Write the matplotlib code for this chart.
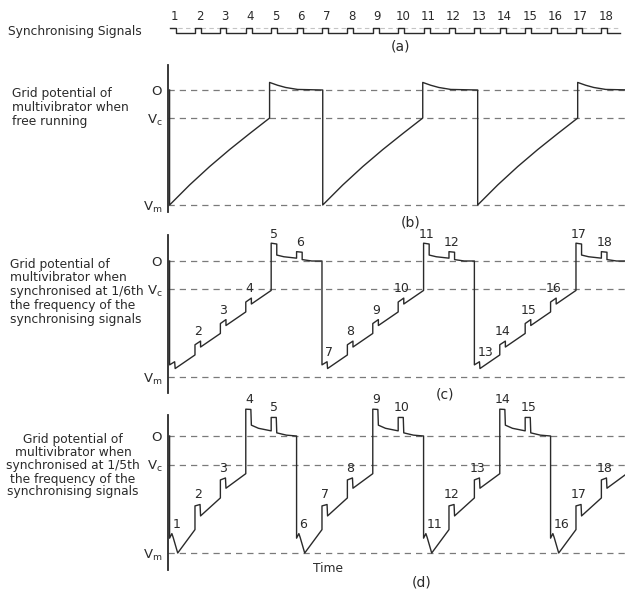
import numpy as np
import matplotlib

matplotlib.use("Agg")
import matplotlib.pyplot as plt

plt.rcParams["font.family"] = ["DejaVu Sans"]

# ---- data ---------------------------------------------------------------
# time axis is in units of the sync-pulse period, pulse k starts at t = k
sync_pulse_numbers = list(range(1, 19))
pulse_width = 0.24
sync_end = 18.75

# grid levels (volts, arbitrary units): O, Vc, Vm
level_values = [0.0, -1.0, -4.1]
level_labels = ["O", r"$\mathregular{V_c}$", r"$\mathregular{V_m}$"]

# (b) free running: one cycle, times relative to the start of each cycle
free_cycle_starts = [1.0, 7.03, 13.13, 19.2]
free_shape_t = [0.0, 0.0, 0.787, 1.575, 2.362, 3.15, 3.937, 3.937, 4.25, 4.57, 5.04]
free_shape_v = [0.0, -4.1, -3.387, -2.731, -2.125, -1.555, -1.0, 0.27, 0.17, 0.09, 0.02]

# (c) locked at 1/6th: cycle starts at the pulse that flips it down
sixth_cycle_starts = [1, 7, 13, 19]
sixth_shape_t = [0.0, 0.0, 0.2, 0.22,
                 1.0, 1.0, 1.22, 1.22,
                 2.0, 2.0, 2.22, 2.22,
                 3.0, 3.0, 3.22, 3.22,
                 4.0, 4.0, 4.22, 4.22, 4.5, 5.0,
                 5.0, 5.22, 5.22, 5.6]
sixth_shape_v = [0.0, -3.67, -3.56, -3.80,
                 -3.32, -2.96, -2.83, -3.04,
                 -2.56, -2.21, -2.07, -2.28,
                 -1.80, -1.45, -1.31, -1.52,
                 -1.04, 0.63, 0.60, 0.21, 0.15, 0.10,
                 0.33, 0.31, 0.05, 0.0]
sixth_labelled = list(range(2, 19))

# (d) locked at 1/5th
fifth_cycle_starts = [1, 6, 11, 16]
fifth_shape_t = [0.0, 0.0, 0.09, 0.14, 0.32,
                 1.0, 1.0, 1.2, 1.22,
                 2.0, 2.0, 2.2, 2.22,
                 3.0, 3.0, 3.2, 3.22, 3.5, 4.0,
                 4.0, 4.2, 4.22, 4.6, 5.0]
fifth_shape_v = [0.0, -3.58, -3.42, -3.55, -4.10,
                 -3.28, -2.45, -2.40, -2.80,
                 -2.17, -1.54, -1.47, -1.83,
                 -1.32, 0.94, 0.93, 0.38, 0.27, 0.18,
                 0.65, 0.65, 0.11, 0.03, 0.0]
fifth_labelled = list(range(1, 19))

# ---- layout (pixels of the 625x590 picture) -----------------------------
W, H = 625, 590
X0, X1 = 167.8, 625.0
T0, T1 = 0.93, 18.93
INK = "#2a2a2a"
DASH = "#7a7a7a"

fig = plt.figure(figsize=(W / 100, H / 100), dpi=100)
fig.patch.set_facecolor("white")


def ftext(x, y, s, **kw):
    kw.setdefault("color", INK)
    kw.setdefault("fontsize", 8.8)
    fig.text(x / W, 1 - y / H, s, **kw)


def add_panel(zero_px, unit_px, top_px, bottom_px, spine_px=None):
    ax = fig.add_axes([X0 / W, 1 - bottom_px / H, (X1 - X0) / W, (bottom_px - top_px) / H])
    ax.set_xlim(T0, T1)
    ax.set_ylim(-(bottom_px - zero_px) / unit_px, (zero_px - top_px) / unit_px)
    ax.patch.set_alpha(0)
    for side in ["top", "right", "bottom"]:
        ax.spines[side].set_visible(False)
    ax.set_xticks([])
    if spine_px is None:
        ax.spines["left"].set_visible(False)
        ax.set_yticks([])
    else:
        ax.spines["left"].set_bounds((zero_px - spine_px[1]) / unit_px,
                                     (zero_px - spine_px[0]) / unit_px)
        ax.spines["left"].set_color(INK)
        ax.spines["left"].set_linewidth(1.3)
        ax.set_yticks(level_values, level_labels)
        ax.tick_params(axis="y", length=0, pad=4, labelsize=9.5, labelcolor=INK)
        for lv in level_values:
            ax.axhline(lv, color=DASH, lw=0.9, ls=(0, (5, 4)))
    return ax


def build_wave(starts, shape_t, shape_v):
    ts, vs = [], []
    for s in starts:
        ts.extend(s + np.asarray(shape_t))
        vs.extend(shape_v)
    return np.array(ts), np.array(vs)


def label_pulses(ax, t, v, pulses, drops):
    for k in pulses:
        m = (t > k + 0.005) & (t <= k + 0.3)
        top = v[m].max()
        if k in drops:
            ax.annotate(str(k), (k, top), xytext=(3, 3), textcoords="offset pixels",
                        ha="left", va="bottom", fontsize=9, color=INK)
        else:
            ax.annotate(str(k), (k + pulse_width / 2, top), xytext=(0, 3),
                        textcoords="offset pixels", ha="center", va="bottom",
                        fontsize=9, color=INK)


# ---- (a) synchronising signals ------------------------------------------
ax_a = add_panel(33, 5.5, 5, 42)
st, sv = [], []
for k in sync_pulse_numbers:
    if k > sync_pulse_numbers[0]:
        st += [k, k]
        sv += [0, 1]
    else:
        st += [k]
        sv += [1]
    st += [k + pulse_width, k + pulse_width]
    sv += [1, 0]
st.append(sync_end)
sv.append(0)
ax_a.plot([sync_pulse_numbers[0], sync_end], [1, 1], color="#c4c4c4", lw=0.8, ls=(0, (4, 3)))
ax_a.plot(st, sv, color=INK, lw=1.0)
for k in sync_pulse_numbers:
    ax_a.annotate(str(k), (k + 0.18, 1), xytext=(0, 11), textcoords="offset pixels",
                  ha="center", va="center", fontsize=8.5, color=INK)
ftext(8, 31, "Synchronising Signals", ha="left", va="center")
ftext(401, 47, "(a)", ha="center", va="center", fontsize=10)

# ---- (b) free running ----------------------------------------------------
ax_b = add_panel(90, 28.05, 60, 215, spine_px=(65, 212))
bt, bv = build_wave(free_cycle_starts, free_shape_t, free_shape_v)
ax_b.plot(bt, bv, color=INK, lw=1.0)
for i, line in enumerate(["Grid potential of", "multivibrator when", "free running"]):
    ftext(12, 93.5 + 14 * i, line, ha="left", va="center")
ftext(411, 222, "(b)", ha="center", va="center", fontsize=10)

# ---- (c) synchronised at 1/6th -------------------------------------------
ax_c = add_panel(261, 28.3, 232, 398, spine_px=(235, 393))
ct, cv = build_wave(sixth_cycle_starts, sixth_shape_t, sixth_shape_v)
ax_c.plot(ct, cv, color=INK, lw=1.0)
label_pulses(ax_c, ct, cv, sixth_labelled, sixth_cycle_starts)
c_lines = ["Grid potential of", "multivibrator when", "synchronised at 1/6th",
           "the frequency of the", "synchronising signals"]
for i, line in enumerate(c_lines):
    ftext(10, 264 + 13.75 * i, line, ha="left", va="center")
ftext(445, 395, "(c)", ha="center", va="center", fontsize=10)

# ---- (d) synchronised at 1/5th -------------------------------------------
ax_d = add_panel(436, 28.54, 400, 575, spine_px=(415, 570))
dt, dv = build_wave(fifth_cycle_starts, fifth_shape_t, fifth_shape_v)
ax_d.plot(dt, dv, color=INK, lw=1.0)
label_pulses(ax_d, dt, dv, fifth_labelled, fifth_cycle_starts)
d_lines = ["Grid potential of", "multivibrator when", "synchronised at 1/5th",
           "the frequency of the", "synchronising signals"]
for i, line in enumerate(d_lines):
    ftext(73, 440 + 13 * i, line, ha="center", va="center")
ftext(328, 568, "Time", ha="center", va="center")
ftext(422, 583, "(d)", ha="center", va="center", fontsize=10)

fig.savefig("out.png", dpi=100, facecolor="white")
